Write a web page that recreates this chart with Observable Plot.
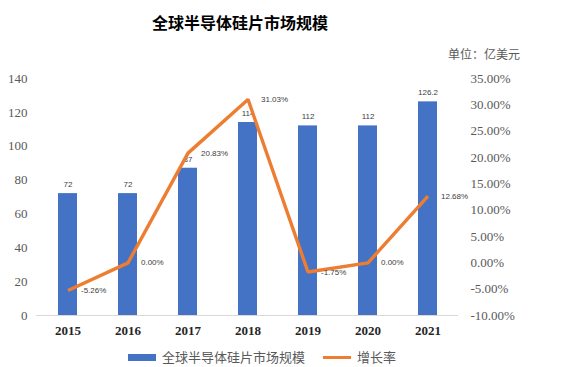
<!DOCTYPE html>
<html>
<head>
<meta charset="utf-8">
<script src="https://cdn.jsdelivr.net/npm/d3@7"></script>
<script src="https://cdn.jsdelivr.net/npm/@observablehq/plot@0.6"></script>
<style>
  body { margin: 0; background: #fff; }
  #wrap { position: relative; width: 568px; height: 367px; overflow: hidden; }
  #title { position: absolute; left: 0; width: 480px; top: 10px; text-align: center;
    font-family: "Noto Sans CJK SC", sans-serif; font-weight: bold; font-size: 16px; color: #000; }
  #unit { position: absolute; right: 48px; top: 45px; font-family: "Noto Sans CJK SC", sans-serif;
    font-size: 12px; color: #595959; }
  #legend { position: absolute; top: 350px; left: 128px; display: flex; align-items: center;
    white-space: nowrap; line-height: 14px; height: 14px;
    font-family: "Noto Sans CJK SC", sans-serif; font-size: 13px; color: #595959; }
  #legend .sw { display: inline-block; width: 28px; margin-right: 6px; flex: none; }
  #chart { position: absolute; left: 0; top: 0; }
  #chart svg text { font-family: "Liberation Serif", "Times New Roman", serif !important; font-variant-numeric: normal !important; }
  #chart svg .lbl text { font-family: "Liberation Sans", Arial, sans-serif !important; }
</style>
</head>
<body>
<div id="wrap">
  <div id="chart"></div>
  <div id="title">全球半导体硅片市场规模</div>
  <div id="unit">单位：亿美元</div>
  <div id="legend">
    <span class="sw" style="height:7px;background:#4472C4"></span><span>全球半导体硅片市场规模</span>
    <span class="sw" style="height:3px;background:#ED7D31;margin-left:18px"></span><span>增长率</span>
  </div>
</div>
<script>
const years = ["2015", "2016", "2017", "2018", "2019", "2020", "2021"];
const market = [72, 72, 87, 114, 112, 112, 126.2];
const growth = [-5.26, 0.00, 20.83, 31.03, -1.75, 0.00, 12.68];
const leftTicks = [0, 20, 40, 60, 80, 100, 120, 140];
const rightTicks = [-10, -5, 0, 5, 10, 15, 20, 25, 30, 35];

const pMin = -10, pMax = 35, yMax = 140;
const toY = p => (p - pMin) * yMax / (pMax - pMin);
const fromY = y => Math.round((y * (pMax - pMin) / yMax + pMin) * 100) / 100;

const bars = years.map((y, i) => ({year: y, value: market[i]}));
const pts = years.map((y, i) => ({year: y, g: growth[i], yv: toY(growth[i])}));

const chart = Plot.plot({
  width: 568,
  height: 367,
  marginTop: 78,
  marginBottom: 52,
  marginLeft: 36,
  marginRight: 110,
  style: {background: "transparent"},
  x: {domain: years, paddingInner: 0.69, paddingOuter: 0.345, label: null},
  y: {domain: [0, yMax], label: null},
  marks: [
    Plot.axisY({ticks: leftTicks, tickSize: 0, tickPadding: 9, fontSize: 13, color: "#595959", label: null, fontVariant: "normal"}),
    Plot.axisY(rightTicks.map(toY), {anchor: "right", tickSize: 0, tickPadding: 12, textAnchor: "start",
      fontSize: 13, color: "#595959", label: null, fontVariant: "normal",
      tickFormat: d => fromY(d).toFixed(2) + "%"}),
    Plot.axisX({tickSize: 0, tickPadding: 10, fontSize: 13, fontWeight: "bold", color: "#262626", label: null}),
    Plot.barY(bars, {x: "year", y: "value", fill: "#4472C4"}),
    Plot.ruleY([0], {stroke: "#d9d9d9", strokeWidth: 1}),
    Plot.text(bars, {x: "year", y: "value", text: d => String(d.value), dy: -9, fontSize: 8,
      fill: "#404040", className: "lbl"}),
    Plot.line(pts, {x: "year", y: "yv", stroke: "#ED7D31", strokeWidth: 3.4, strokeLinejoin: "miter", strokeLinecap: "butt"}),
    Plot.text(pts, {x: "year", y: "yv", text: d => d.g.toFixed(2) + "%", dx: 13, textAnchor: "start",
      fontSize: 8, fill: "#404040", className: "lbl"})
  ]
});
document.getElementById("chart").appendChild(chart);
</script>
</body>
</html>
